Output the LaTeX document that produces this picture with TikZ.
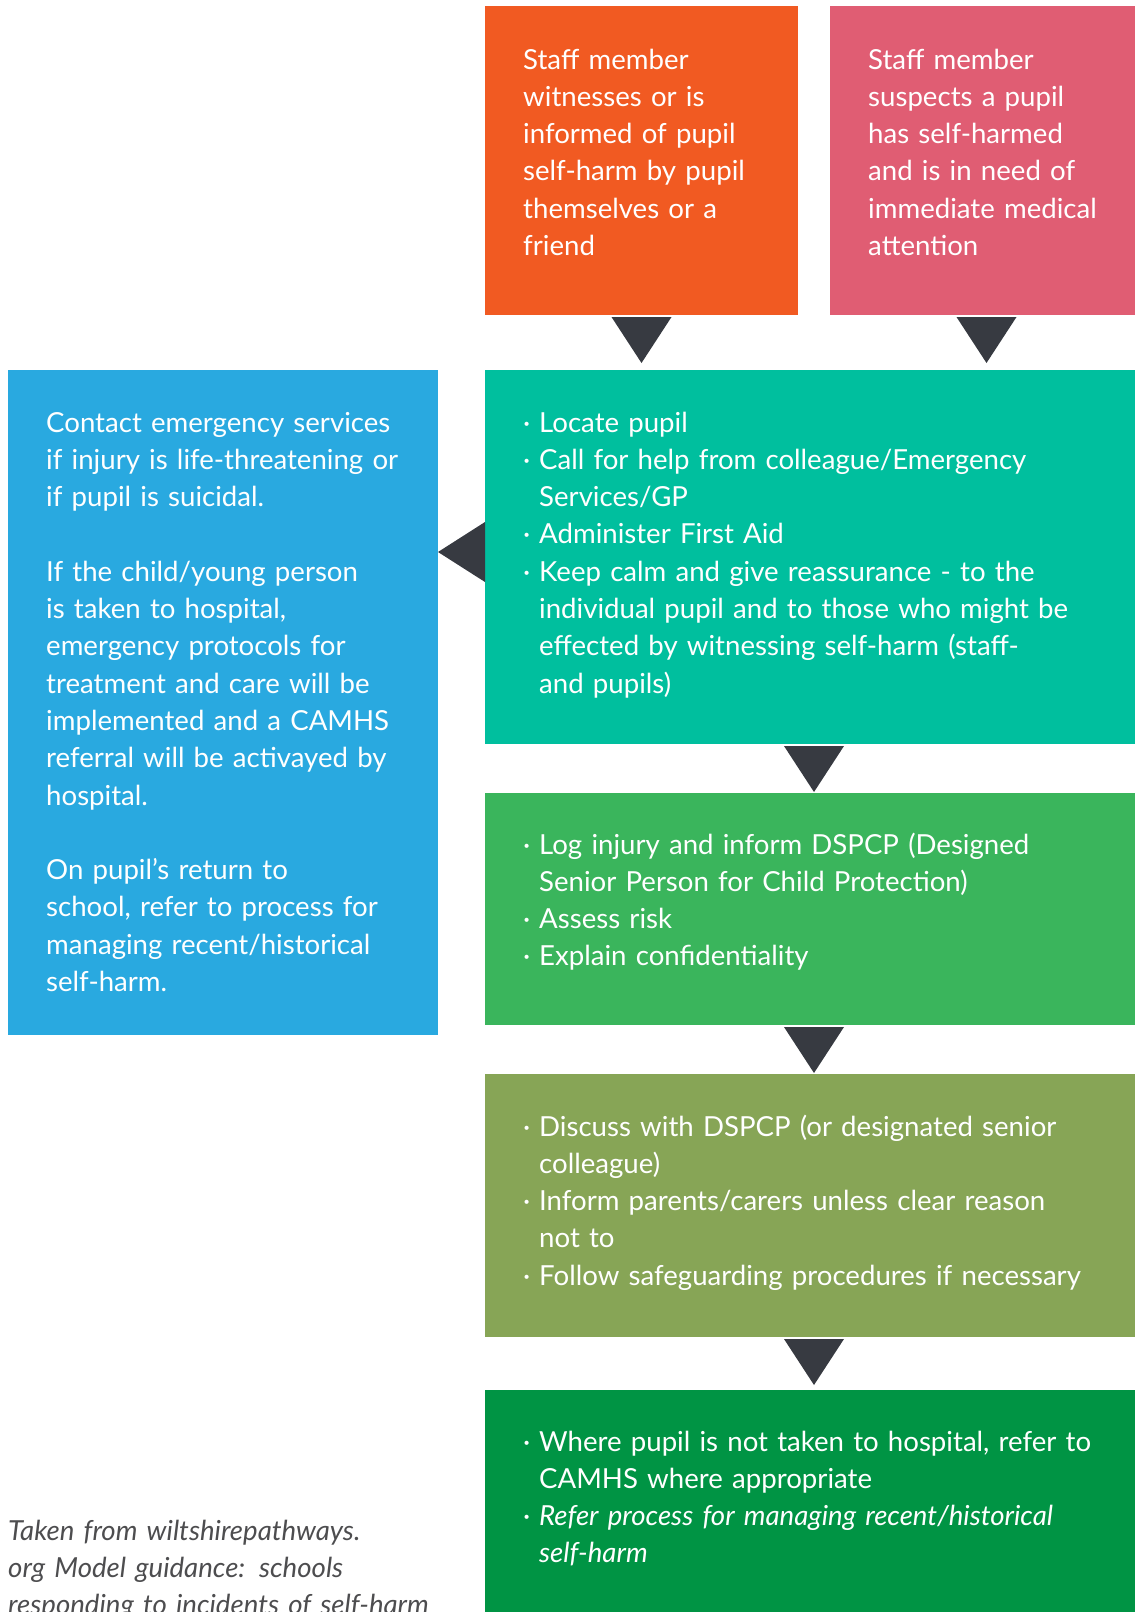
\documentclass[tikz,border=0pt]{standalone}
\usepackage{fontspec}
\setmainfont{Lato}
\usepackage{tikz}
\usetikzlibrary{positioning,calc}
\definecolor{WitnessOrange}{HTML}{F15A22}
\definecolor{SuspectPink}{HTML}{E05D73}
\definecolor{ActionTeal}{HTML}{00BF9E}
\definecolor{EmergencyBlue}{HTML}{29A9E0}
\definecolor{LogGreen}{HTML}{3AB55C}
\definecolor{DiscussOlive}{HTML}{87A556}
\definecolor{ReferGreen}{HTML}{009444}
\definecolor{PointerDark}{HTML}{373A41}
\definecolor{NoteGrey}{HTML}{4D4D4F}
\tikzset{
  stepbox/.style={rectangle,inner sep=0pt,outer sep=0pt,anchor=north west},
  steptext/.style={anchor=base west,inner sep=0pt,text=white,align=left,font=\fontsize{27.6}{37.3}\selectfont},
  pointer/.style={fill=PointerDark},
  sourcenote/.style={anchor=base west,inner sep=0pt,text=NoteGrey,align=left,text width=480pt,font=\fontsize{27.6}{37.3}\selectfont\itshape}
}
\newcommand{\stepitem}[1]{\hangindent=16pt\hangafter=1\noindent\makebox[16pt][l]{·}#1\par}
\begin{document}
\begin{tikzpicture}[x=1pt,y=-1pt]
\useasboundingbox (0,0) rectangle (1135,1612);
\node[stepbox,fill=WitnessOrange,minimum width=313pt,minimum height=309pt] (witness) at (485,6) {};
\node[stepbox,fill=SuspectPink,minimum width=313pt,minimum height=309pt,right=32pt of witness.north east,anchor=north west] (suspect) {};
\node[stepbox,fill=ActionTeal,minimum width=658pt,minimum height=374pt] (firstaid) at (485,370) {};
\node[stepbox,fill=EmergencyBlue,minimum width=430pt,minimum height=665pt] (emergency) at (8,370) {};
\node[stepbox,fill=LogGreen,minimum width=658pt,minimum height=232pt,below=49pt of firstaid.south west,anchor=north west] (loginjury) {};
\node[stepbox,fill=DiscussOlive,minimum width=658pt,minimum height=263pt,below=49pt of loginjury.south west,anchor=north west] (discuss) {};
\node[stepbox,fill=ReferGreen,minimum width=658pt,minimum height=230pt,below=53pt of discuss.south west,anchor=north west] (referon) {};
\node[steptext,text width=360pt] (witnesstxt) at ($(witness.north west)+(38,63)$) {Staff member\\witnesses or is\\informed of pupil\\self-harm by pupil\\themselves or a\\friend};
\node[steptext,text width=360pt] (suspecttxt) at ($(suspect.north west)+(38,63)$) {Staff member\\suspects a pupil\\has self-harmed\\and is in need of\\immediate medical\\attention};
\node[steptext,text width=700pt] (firstaidtxt) at ($(firstaid.north west)+(38,62)$) {\stepitem{Locate pupil}
\stepitem{Call for help from colleague/Emergency\newline Services/GP}
\stepitem{Administer First Aid}
\stepitem{Keep calm and give reassurance - to the\newline individual pupil and to those who might be\newline effected by witnessing self-harm (staff-\newline and pupils)}};
\node[steptext,text width=460pt] (emergencytxt) at ($(emergency.north west)+(38,62)$) {Contact emergency services\\if injury is life-threatening or\\if pupil is suicidal.\\[37.3pt]If the child/young person\\is taken to hospital,\\emergency protocols for\\treatment and care will be\\implemented and a CAMHS\\referral will be activayed by\\hospital.\\[37.3pt]On pupil's return to\\school, refer to process for\\managing recent/historical\\self-harm.};
\node[steptext,text width=700pt] (loginjurytxt) at ($(loginjury.north west)+(38,61)$) {\stepitem{Log injury and inform DSPCP (Designed\newline Senior Person for Child Protection)}
\stepitem{Assess risk}
\stepitem{Explain confidentiality}};
\node[steptext,text width=700pt] (discusstxt) at ($(discuss.north west)+(38,62)$) {\stepitem{Discuss with DSPCP (or designated senior\newline colleague)}
\stepitem{Inform parents/carers unless clear reason\newline not to}
\stepitem{Follow safeguarding procedures if necessary}};
\node[steptext,text width=700pt] (referontxt) at ($(referon.north west)+(38,61)$) {\stepitem{Where pupil is not taken to hospital, refer to\newline CAMHS where appropriate}
\stepitem{\itshape Refer process for managing recent/historical\newline self-harm}};
\node[sourcenote] (source) at (8,1540) {Taken from wiltshirepathways.\\org Model guidance: schools\\responding to incidents of self-harm};
\foreach \a/\b in {witness/firstaid,suspect/firstaid,firstaid/loginjury,loginjury/discuss,discuss/referon}
  \fill[pointer] ($(\a.south)+(-30,2)$) -- ($(\a.south)+(30,2)$) -- ($(\a.south)!48pt!(\a.south |- \b.north)$) -- cycle;
\fill[pointer] ($(firstaid.west)+(0,-35)$) -- ($(firstaid.west)+(0,25)$) -- ($(emergency.east |- firstaid.west)+(0,-5)$) -- cycle;
\end{tikzpicture}
\end{document}
